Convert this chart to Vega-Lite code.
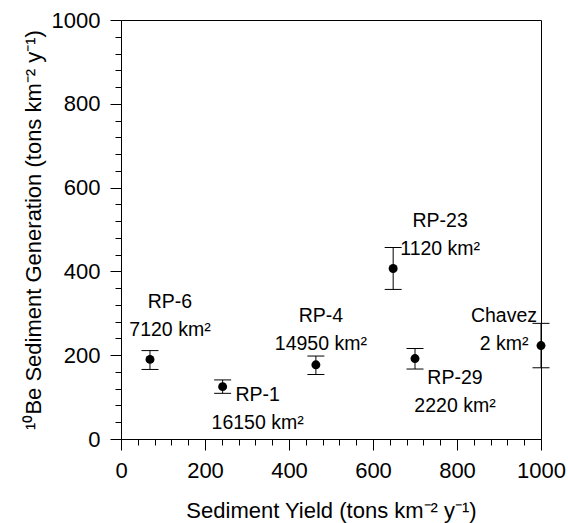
{
  "$schema": "https://vega.github.io/schema/vega-lite/v6.json",
  "width": 420,
  "height": 419,
  "autosize": {"type": "none"},
  "padding": {"left": 121, "top": 20, "right": 27, "bottom": 84},
  "background": "white",
  "config": {
    "view": {"stroke": "black", "strokeWidth": 1},
    "font": "Liberation Sans",
    "axis": {
      "domainColor": "black",
      "tickColor": "black",
      "labelColor": "black",
      "titleColor": "black",
      "labelFont": "Liberation Sans",
      "titleFont": "Liberation Sans",
      "labelFontSize": 22,
      "titleFontSize": 22,
      "titleFontWeight": "normal",
      "grid": false
    }
  },
  "data": {
    "values": [
      {"site": "RP-6", "yield": 69, "gen": 190, "lo": 166, "hi": 211, "label": ["RP-6", "7120 km²"]},
      {"site": "RP-1", "yield": 242, "gen": 125, "lo": 109, "hi": 141, "label": ["RP-1", "16150 km²"]},
      {"site": "RP-4", "yield": 464, "gen": 177, "lo": 154, "hi": 198, "label": ["RP-4", "14950 km²"]},
      {"site": "RP-23", "yield": 648, "gen": 407, "lo": 357, "hi": 457, "label": ["RP-23", "1120 km²"]},
      {"site": "RP-29", "yield": 700, "gen": 192, "lo": 167, "hi": 216, "label": ["RP-29", "2220 km²"]},
      {"site": "Chavez", "yield": 1000, "gen": 223, "lo": 170, "hi": 276, "label": ["Chavez", "2 km²"]}
    ]
  },
  "encoding": {
    "x": {
      "field": "yield", "type": "quantitative",
      "scale": {"domain": [0, 1000], "nice": false, "zero": false},
      "axis": {
        "title": "Sediment Yield (tons km⁻² y⁻¹)",
        "format": "d",
        "values": [0, 40, 80, 120, 160, 200, 240, 280, 320, 360, 400, 440, 480, 520, 560, 600, 640, 680, 720, 760, 800, 840, 880, 920, 960, 1000],
        "labelExpr": "datum.value % 200 === 0 ? datum.label : ''",
        "tickSize": {"condition": {"test": "datum.value % 200 === 0", "value": 11}, "value": 6},
        "labelPadding": 10,
        "titlePadding": 19,
        "labelFlush": false,
        "labelOverlap": false
      }
    },
    "y": {
      "field": "gen", "type": "quantitative",
      "scale": {"domain": [0, 1000], "nice": false, "zero": false},
      "axis": {
        "title": "¹⁰Be Sediment Generation (tons km⁻² y⁻¹)",
        "format": "d",
        "values": [0, 40, 80, 120, 160, 200, 240, 280, 320, 360, 400, 440, 480, 520, 560, 600, 640, 680, 720, 760, 800, 840, 880, 920, 960, 1000],
        "labelExpr": "datum.value % 200 === 0 ? datum.label : ''",
        "tickSize": {"condition": {"test": "datum.value % 200 === 0", "value": 11}, "value": 6},
        "labelPadding": 10,
        "titlePadding": 6,
        "labelFlush": false,
        "labelOverlap": false
      }
    }
  },
  "layer": [
    {
      "mark": {"type": "rule", "color": "black", "strokeWidth": 1, "opacity": 1},
      "encoding": {"y": {"field": "lo", "type": "quantitative"}, "y2": {"field": "hi"}}
    },
    {
      "mark": {"type": "tick", "orient": "horizontal", "color": "black", "size": 17, "thickness": 1, "opacity": 1},
      "encoding": {"y": {"field": "lo", "type": "quantitative"}}
    },
    {
      "mark": {"type": "tick", "orient": "horizontal", "color": "black", "size": 17, "thickness": 1, "opacity": 1},
      "encoding": {"y": {"field": "hi", "type": "quantitative"}}
    },
    {
      "mark": {"type": "point", "filled": true, "color": "black", "opacity": 1, "size": 80}
    },
    {
      "transform": [{"filter": "datum.site === 'RP-6'"}],
      "mark": {"type": "text", "fontSize": 19.5, "lineHeight": 28, "baseline": "middle", "align": "center", "dx": 20, "dy": -57, "color": "black"},
      "encoding": {"text": {"field": "label"}}
    },
    {
      "transform": [{"filter": "datum.site === 'RP-4'"}],
      "mark": {"type": "text", "fontSize": 19.5, "lineHeight": 28, "baseline": "middle", "align": "center", "dx": 5, "dy": -49, "color": "black"},
      "encoding": {"text": {"field": "label"}}
    },
    {
      "transform": [{"filter": "datum.site === 'RP-1'"}],
      "mark": {"type": "text", "fontSize": 19.5, "lineHeight": 28, "baseline": "middle", "align": "center", "dx": 35, "dy": 8, "color": "black"},
      "encoding": {"text": {"field": "label"}}
    },
    {
      "transform": [{"filter": "datum.site === 'RP-23'"}],
      "mark": {"type": "text", "fontSize": 19.5, "lineHeight": 28, "baseline": "middle", "align": "center", "dx": 47, "dy": -47, "color": "black"},
      "encoding": {"text": {"field": "label"}}
    },
    {
      "transform": [{"filter": "datum.site === 'RP-29'"}],
      "mark": {"type": "text", "fontSize": 19.5, "lineHeight": 28, "baseline": "middle", "align": "center", "dx": 40, "dy": 19, "color": "black"},
      "encoding": {"text": {"field": "label"}}
    },
    {
      "transform": [{"filter": "datum.site === 'Chavez'"}],
      "mark": {"type": "text", "fontSize": 19.5, "lineHeight": 28, "baseline": "middle", "align": "center", "dx": -37, "dy": -30, "color": "black"},
      "encoding": {"text": {"field": "label"}}
    }
  ]
}
